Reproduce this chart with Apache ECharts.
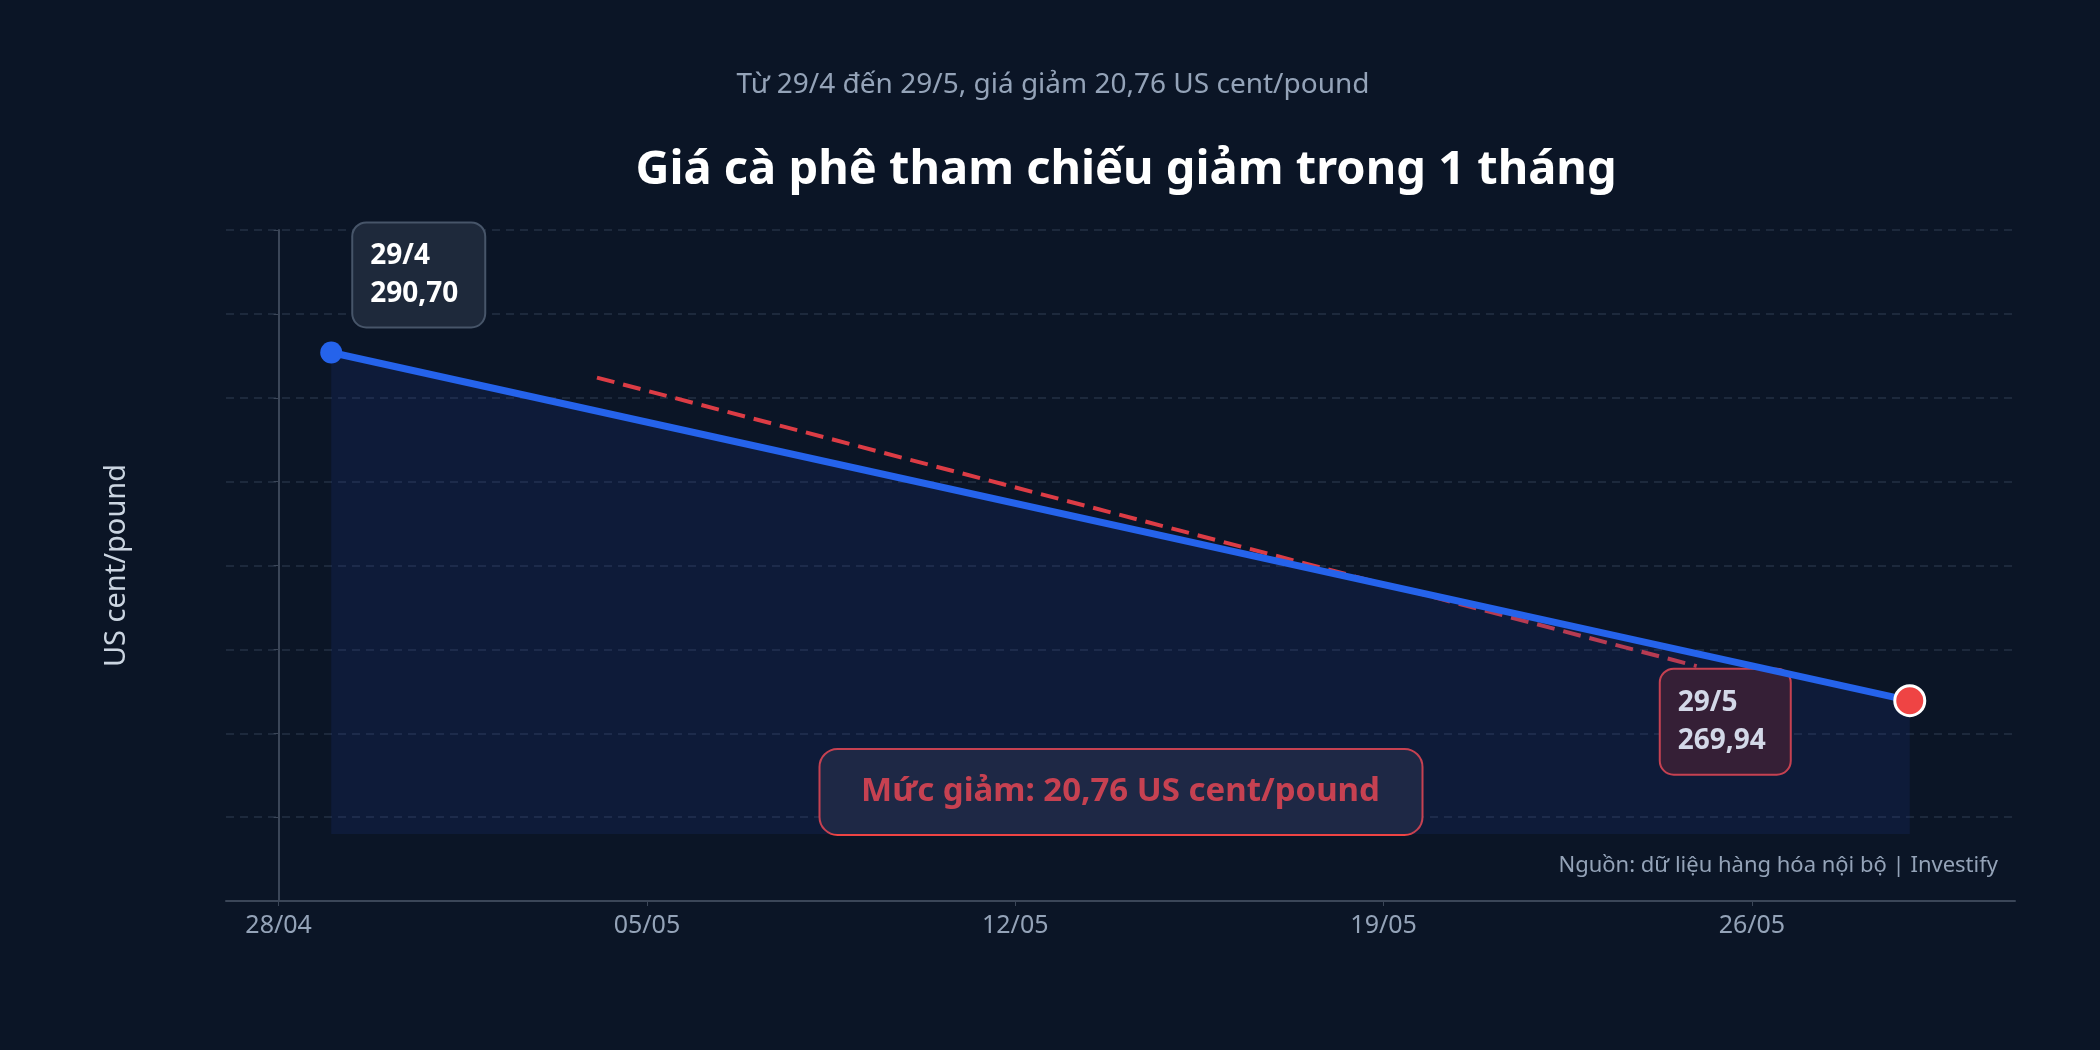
<!DOCTYPE html>
<html><head><meta charset="utf-8">
<script src="https://cdn.jsdelivr.net/npm/echarts@6/dist/echarts.min.js"></script>
<style>html,body{margin:0;background:#0b1526}#c{width:2100px;height:1050px}</style>
</head><body><div id="c"></div>
<script>
// x = days since 28/04
const tickDays = [0, 7, 14, 21, 28];
const tickLabels = ['28/04', '05/05', '12/05', '19/05', '26/05'];
const priceDays = [1, 31];
const priceValues = [290.70, 269.94];
const pointLabels = ['29/4\n290,70', '29/5\n269,94'];
const trendDays = [6.05, 26.95];
const trendValues = [289.2, 272.0];
const dropText = 'Mức giảm: 20,76 US cent/pound';

const F = 'Noto Sans';
const chart = echarts.init(document.getElementById('c'));
chart.setOption({
  backgroundColor: '#0b1526',
  textStyle: { fontFamily: F },
  title: [
    { text: 'Từ 29/4 đến 29/5, giá giảm 20,76 US cent/pound', left: 1048, top: 66, textAlign: 'center',
      textStyle: { color: '#94a3b8', fontSize: 28, fontWeight: 'normal', fontFamily: F } },
    { text: 'Giá cà phê tham chiếu giảm trong 1 tháng', left: 1121, top: 142, textAlign: 'center',
      textStyle: { color: '#ffffff', fontSize: 47, fontWeight: 'bold', fontFamily: F } }
  ],
  grid: { left: 226, right: 85, top: 230, bottom: 149, containLabel: false },
  xAxis: {
    type: 'value', min: -1, max: 33,
    axisLine: { lineStyle: { color: '#3b4658', width: 2 } },
    axisTick: { show: true, customValues: tickDays, lineStyle: { color: '#3b4658' } },
    axisLabel: { customValues: tickDays, color: '#94a3b8', fontSize: 25, margin: 12,
      formatter: v => tickLabels[tickDays.indexOf(v)] ?? '' },
    splitLine: { show: false }
  },
  yAxis: {
    type: 'value', min: 258, max: 298, interval: 5,
    name: 'US cent/pound', nameLocation: 'middle', nameGap: 95, nameRotate: 90,
    nameTextStyle: { color: '#cbd5e1', fontSize: 29 },
    axisLine: { show: true, lineStyle: { color: '#3b4658', width: 2 } },
    axisTick: { show: true, lineStyle: { color: '#3b4658' } },
    axisLabel: { color: '#94a3b8', fontSize: 25, margin: 14,
      formatter: v => (v % 5 === 0 && v >= 260 && v <= 295) ? v : '' },
    splitLine: { lineStyle: { color: '#243044', type: [8, 6], width: 1.5 } }
  },
  series: [
    { type: 'line', z: 1, symbol: 'none', data: trendDays.map((d, i) => [d, trendValues[i]]),
      lineStyle: { color: '#dc3c45', width: 4, type: [18, 9] } },
    { type: 'line', z: 3, data: priceDays.map((d, i) => [d, priceValues[i]]),
      lineStyle: { color: '#2563eb', width: 7 },
      areaStyle: { origin: 262, color: 'rgba(29,58,138,0.28)' },
      symbol: 'circle',
      itemStyle: { color: '#2563eb' },
      symbolSize: 22 }
  ]
});
// second point styling
chart.setOption({ series: [{}, { data: [
  { value: [priceDays[0], priceValues[0]], symbolSize: 22, itemStyle: { color: '#2563eb' } },
  { value: [priceDays[1], priceValues[1]], symbolSize: 30, itemStyle: { color: '#ef4444', borderColor: '#fff', borderWidth: 3 } }
]}]});

const p0 = chart.convertToPixel({ gridIndex: 0 }, [priceDays[0], priceValues[0]]);
const p1 = chart.convertToPixel({ gridIndex: 0 }, [priceDays[1], priceValues[1]]);
const bottomY = chart.convertToPixel({ gridIndex: 0 }, [16, 262])[1];
const midX = chart.convertToPixel({ gridIndex: 0 }, [16, 262])[0];
function box(x, y, w, h, text, fill, stroke, color, size) {
  return { type: 'group', left: x, top: y, z: 100, children: [
    { type: 'rect', shape: { x: 0, y: 0, width: w, height: h, r: 14 }, style: { fill, stroke, lineWidth: 2 } },
    { type: 'text', style: { x: 18, y: h / 2, text, fill: color, font: 'bold ' + size + 'px "Noto Sans"', verticalAlign: 'middle', lineHeight: size * 1.35 } }
  ]};
}
chart.setOption({ graphic: [
  box(p0[0] + 20, p0[1] - 131, 133, 105, pointLabels[0], '#1e293b', '#475569', '#ffffff', 28),
  box(p1[0] - 251, p1[1] - 33, 131, 106, pointLabels[1], '#3b1a22', '#ef4444', '#ffffff', 28),
  { type: 'group', left: midX - 302, top: bottomY - 86, z: 100, children: [
    { type: 'rect', shape: { x: 0, y: 0, width: 603, height: 86, r: 18 }, style: { fill: '#1e2535', stroke: '#ef4444', lineWidth: 2 } },
    { type: 'text', style: { x: 301, y: 43, text: dropText, fill: '#ef4444', font: 'bold 33px "Noto Sans"', align: 'center', verticalAlign: 'middle' } }
  ]},
  { type: 'text', right: 102, top: 855, z: 100, style: { text: 'Nguồn: dữ liệu hàng hóa nội bộ | Investify', fill: '#94a3b8', font: '22px "Noto Sans"' } }
]});
</script></body></html>
